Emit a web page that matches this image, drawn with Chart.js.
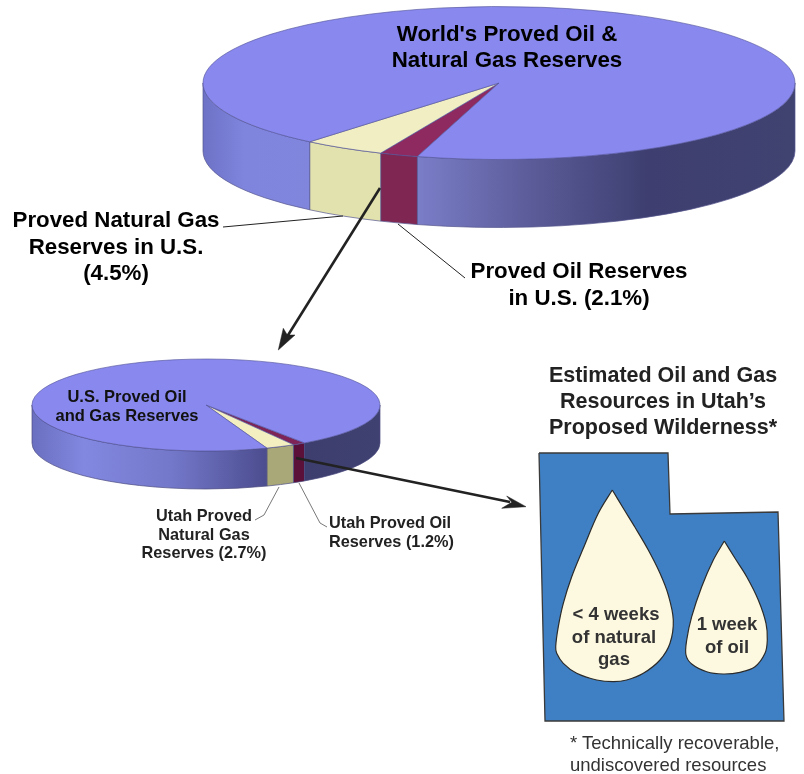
<!DOCTYPE html>
<html lang="en">
<head>
<meta charset="UTF-8">
<title>Oil and Gas Reserves</title>
<script src="https://cdn.jsdelivr.net/npm/chart.js"></script>
<style>
    html, body { margin: 0; padding: 0; background: #fff; overflow: hidden; }
    #page { position: relative; width: 804px; height: 774px; overflow: hidden; }
    canvas { position: absolute; left: 0; top: 0; }
    .t { position: absolute; white-space: nowrap; font-family: "Liberation Sans", Arial, sans-serif; font-weight: bold; transform: translate(-50%, -50%); line-height: 1; }
    .l { transform: translate(0, -50%); }
    .big { font-size: 22.3px; color: #000; }
    .mid { font-size: 16.5px; color: #111; }
    .sm { font-size: 16.3px; color: #222; }
    .hd { font-size: 21.5px; color: #222; }
    .dr { font-size: 18.5px; color: #333; }
    .fn { font-size: 18.5px; font-weight: normal; color: #333; }
</style>
</head>
<body>
<div id="page">
    <canvas id="worldPie" width="804" height="774"></canvas>
    <canvas id="usPie" width="804" height="774"></canvas>
    <canvas id="overlay" width="804" height="774"></canvas>

    <div class="t big" style="left:507px;top:34px">World's Proved Oil &amp;</div>
    <div class="t big" style="left:507px;top:60px">Natural Gas Reserves</div>
    <div class="t big" style="left:116px;top:220px">Proved Natural Gas</div>
    <div class="t big" style="left:116px;top:247px">Reserves in U.S.</div>
    <div class="t big" style="left:116px;top:273px">(4.5%)</div>
    <div class="t big" style="left:579px;top:271px">Proved Oil Reserves</div>
    <div class="t big" style="left:579px;top:298px">in U.S. (2.1%)</div>
    <div class="t mid" style="left:127px;top:396px">U.S. Proved Oil</div>
    <div class="t mid" style="left:127px;top:415px">and Gas Reserves</div>
    <div class="t sm" style="left:204px;top:515px">Utah Proved</div>
    <div class="t sm" style="left:204px;top:534px">Natural Gas</div>
    <div class="t sm" style="left:204px;top:552px">Reserves (2.7%)</div>
    <div class="t sm l" style="left:329px;top:522px">Utah Proved Oil</div>
    <div class="t sm l" style="left:329px;top:541px">Reserves (1.2%)</div>
    <div class="t hd" style="left:663px;top:376px">Estimated Oil and Gas</div>
    <div class="t hd" style="left:663px;top:402px">Resources in Utah’s</div>
    <div class="t hd" style="left:663px;top:428px">Proposed Wilderness*</div>
    <div class="t dr" style="left:616px;top:614px">&lt; 4 weeks</div>
    <div class="t dr" style="left:614px;top:637px">of natural</div>
    <div class="t dr" style="left:614px;top:659px">gas</div>
    <div class="t dr" style="left:727px;top:624px">1 week</div>
    <div class="t dr" style="left:727px;top:647px">of oil</div>
    <div class="t fn l" style="left:570px;top:743px">* Technically recoverable,</div>
    <div class="t fn l" style="left:570px;top:765px">undiscovered resources</div>
</div>

<script>
// shares, in percent
const worldLabels = ['Proved Oil Reserves in U.S.', 'Proved Natural Gas Reserves in U.S.', 'Rest of world'];
const worldValues = [2.1, 4.5, 93.4];
const usLabels = ['Utah Proved Oil Reserves', 'Utah Proved Natural Gas Reserves', 'Rest of U.S.'];
const usValues = [1.2, 2.7, 96.1];

// outlines, page pixels
const utahOutline = [[539,453],[668,453],[670,514],[778,512],[784,721],[545,721],[539,453]];
const gasDrop = [[612.3,490],[623.3,508.3],[635,527.3],[648.3,550],[660,573.3],[668.3,595],[673.3,620],[670,643.3],[660,660],[643.3,673.3],[626.7,680],[613.3,681.7],[596.7,680],[576.7,673.3],[563.3,663.3],[556.7,653.3],[555.7,646.7],[558.3,626.7],[563.3,603.3],[571.7,576.7],[583.3,548.3],[598.3,513.3],[612.3,490]];
const oilDrop = [[724.3,541],[735,558.3],[746.7,576.7],[758.3,600],[766,623.3],[767.3,640],[765,653.3],[755,666.7],[740,672.3],[723.3,674],[706.7,671.7],[691.7,664],[686,655],[686.7,640],[691.7,616.7],[701.7,586.7],[713.3,560],[724.3,541]];
const gasLeaderWorld = [[223,227],[343,216]];
const oilLeaderWorld = [[398,224],[465,278]];
const gasLeaderUtah = [[279,487],[264,515],[255,520]];
const oilLeaderUtah = [[299,483],[320,523],[327,527]];
const arrowWorld = [[380,188],[285,340]];
const arrowWorldHead = [[278.3,350],[283.3,328.3],[287.3,335],[295,335],[278.3,350]];
const arrowUtah = [[296,458],[510,502]];
const arrowUtahHead = [[526,506.7],[506.7,496],[511.7,502.3],[501.7,508.3],[526,506.7]];

const toPoints = list => list.map(p => ({x: p[0], y: p[1]}));

// squashes the pie into an ellipse and draws the side wall under it
const tiltPlugin = {
    id: 'tilt',
    beforeDatasetsDraw(chart, args, opts) {
        const ctx = chart.ctx;
        const arcs = chart.getDatasetMeta(0).data;
        const cx = arcs[0].x, cy = arcs[0].y, rx = arcs[0].outerRadius;
        const ry = rx * opts.squash;

        const grad = ctx.createLinearGradient(cx - rx, 0, cx + rx, 0);
        opts.wallStops.forEach(s => grad.addColorStop(s[0], s[1]));

        arcs.forEach((arc, i) => {
            for (let k = 0; k < 2; k++) {
                const a = Math.max(arc.startAngle, k * 2 * Math.PI);
                const b = Math.min(arc.endAngle, k * 2 * Math.PI + Math.PI);
                if (b <= a) continue;
                ctx.beginPath();
                ctx.ellipse(cx, cy, rx, ry, 0, a, b);
                ctx.ellipse(cx, cy + opts.depth, rx, ry, 0, b, a, true);
                ctx.closePath();
                ctx.fillStyle = opts.wallColors[i] || grad;
                ctx.fill();
                ctx.lineWidth = 0.7;
                ctx.strokeStyle = opts.wallLine;
                ctx.stroke();
            }
        });

        ctx.save();
        ctx.translate(cx, cy);
        ctx.scale(1, opts.squash);
        ctx.translate(-cx, -cy);
    },
    afterDatasetsDraw(chart) {
        chart.ctx.restore();
    }
};

function makePie(id, labels, values, pie) {
    return new Chart(document.getElementById(id), {
        type: 'pie',
        plugins: [tiltPlugin],
        data: {
            labels: labels,
            datasets: [{
                data: values,
                backgroundColor: pie.topColors,
                borderColor: pie.topLine,
                borderWidth: 1,
                radius: pie.rx,
                clip: false
            }]
        },
        options: {
            responsive: false,
            animation: false,
            events: [],
            rotation: pie.rotation,
            layout: {
                padding: {
                    left: Math.max(2 * pie.cx - 804, 0),
                    right: Math.max(804 - 2 * pie.cx, 0),
                    top: Math.max(2 * pie.cy - 774, 0),
                    bottom: Math.max(774 - 2 * pie.cy, 0)
                }
            },
            plugins: {
                legend: { display: false },
                tooltip: { enabled: false },
                tilt: {
                    squash: pie.ry / pie.rx,
                    depth: pie.depth,
                    wallColors: pie.wallColors,
                    wallStops: pie.wallStops,
                    wallLine: pie.wallLine
                }
            }
        }
    });
}

makePie('worldPie', worldLabels, worldValues, {
    cx: 499, cy: 83, rx: 296, ry: 76.5, depth: 68, rotation: 196,
    topColors: ['#8e2a60', '#f0eec2', '#8888ee'],
    topLine: '#55559a',
    wallColors: ['#7f2653', '#e2e2ae', null],
    wallLine: '#55558c',
    wallStops: [[0, '#6d72c6'], [0.07, '#7f85dd'], [0.2, '#8086dc'], [0.36, '#7b7ec8'], [0.55, '#5c5c9a'], [0.75, '#3e3f70'], [1, '#404270']]
});

makePie('usPie', usLabels, usValues, {
    cx: 206, cy: 405, rx: 174, ry: 46, depth: 38, rotation: 145.5,
    topColors: ['#7e2456', '#f4efc0', '#8888ee'],
    topLine: '#55559a',
    wallColors: ['#5a1038', '#a9a878', null],
    wallLine: '#4a4a80',
    wallStops: [[0, '#6a6fc0'], [0.15, '#8288e0'], [0.4, '#7478ca'], [0.66, '#4e4f92'], [0.79, '#3d3e6e'], [1, '#3f4170']]
});

const line = (pts, color, width) => ({
    data: toPoints(pts), showLine: true, borderColor: color, borderWidth: width,
    pointRadius: 0, fill: false
});
const shape = (pts, color, edge, width, tension) => ({
    data: toPoints(pts), showLine: true, borderColor: edge, borderWidth: width,
    backgroundColor: color, pointRadius: 0, fill: 'shape', tension: tension
});

// first dataset ends up on top
new Chart(document.getElementById('overlay'), {
    type: 'scatter',
    data: {
        datasets: [
            shape(arrowWorldHead, '#222', '#222', 0.5, 0),
            line(arrowWorld, '#222', 2.6),
            shape(arrowUtahHead, '#222', '#222', 0.5, 0),
            line(arrowUtah, '#222', 2.6),
            line(gasLeaderWorld, '#222', 1),
            line(oilLeaderWorld, '#222', 1),
            line(gasLeaderUtah, '#555', 0.8),
            line(oilLeaderUtah, '#555', 0.8),
            shape(gasDrop, '#fdf9e0', '#2b2b2b', 1.2, 0.35),
            shape(oilDrop, '#fdf9e0', '#2b2b2b', 1.2, 0.35),
            shape(utahOutline, '#3f80c4', '#3a3a3a', 1.3, 0)
        ]
    },
    options: {
        responsive: false,
        animation: false,
        events: [],
        layout: { padding: 0 },
        scales: {
            x: { type: 'linear', min: 0, max: 804, display: false },
            y: { type: 'linear', min: 0, max: 774, reverse: true, display: false }
        },
        plugins: {
            legend: { display: false },
            tooltip: { enabled: false }
        }
    }
});
</script>
</body>
</html>
